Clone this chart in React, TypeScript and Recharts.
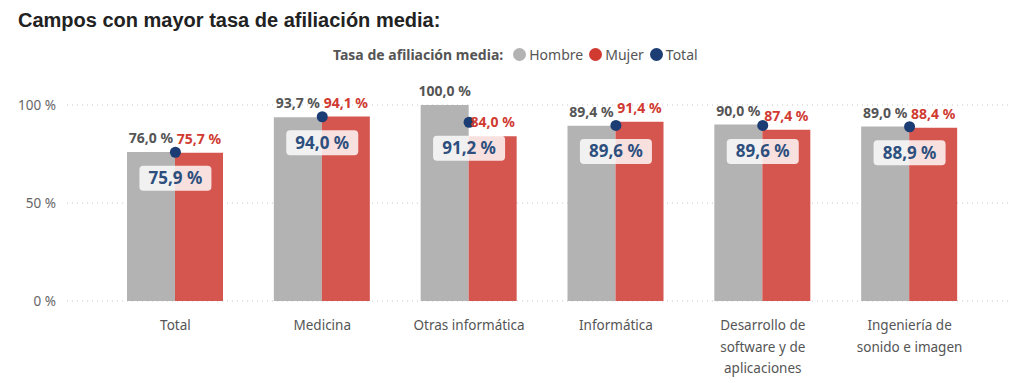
import { ComposedChart, Bar, Line, XAxis, YAxis, CartesianGrid, LabelList } from "recharts";

const categories = [
  "Total",
  "Medicina",
  "Otras informática",
  "Informática",
  "Desarrollo de software y de aplicaciones",
  "Ingeniería de sonido e imagen",
];
const hombre = [76.0, 93.7, 100.0, 89.4, 90.0, 89.0];
const mujer = [75.7, 94.1, 84.0, 91.4, 87.4, 88.4];
const total = [75.9, 94.0, 91.2, 89.6, 89.6, 88.9];
const yTicks = [0, 50, 100];

const GREY = "#b3b3b3";
const RED = "#d5554f";
const NAVY = "#1b3d73";
const FONT = "'Noto Sans', 'Open Sans', sans-serif";

const data = categories.map((name, i) => ({
  name,
  hombre: hombre[i],
  mujer: mujer[i],
  total: total[i],
}));

const pct = (v: unknown) => `${Number(v).toFixed(1).replace(".", ",")} %`;

// naive word wrap, Power BI style
function wrap(text: string, max = 17) {
  const lines: string[] = [];
  let cur = "";
  for (const w of text.split(" ")) {
    const next = cur ? cur + " " + w : w;
    if (next.length > max && cur) {
      lines.push(cur);
      cur = w;
    } else cur = next;
  }
  if (cur) lines.push(cur);
  return lines;
}

function CategoryTick(props: any) {
  const { x, y, payload } = props;
  const lines = wrap(payload.value);
  return (
    <g transform={`translate(${x},${y})`}>
      {lines.map((l, i) => (
        <text key={i} x={0} y={i * 21.5} dy={21} textAnchor="middle" fill="#555" fontSize={13.5} fontFamily={FONT}>
          {l}
        </text>
      ))}
    </g>
  );
}

const barLabel = (color: string) => (props: any) => {
  const { x, y, width, value } = props;
  return (
    <text
      x={x + width / 2}
      y={y - 9}
      textAnchor="middle"
      fill={color}
      fontSize={14}
      fontWeight={700}
      fontFamily={FONT}
    >
      {pct(value)}
    </text>
  );
};

function TotalBadge(props: any) {
  const { x, y, value } = props;
  const cy = y + 26;
  return (
    <g>
      <rect x={x - 36} y={cy - 12.5} width={72} height={25} rx={4} fill="#ffffff" fillOpacity={0.82} />
      <text x={x} y={cy} dy={6} textAnchor="middle" fill="#2c4f7e" fontSize={17} fontWeight={700} fontFamily={FONT}>
        {pct(value)}
      </text>
    </g>
  );
}

function LegendDot({ color, label }: { color: string; label: string }) {
  return (
    <span style={{ display: "inline-flex", alignItems: "center", marginLeft: 6 }}>
      <span style={{ display: "inline-block", width: 13, height: 13, borderRadius: 7, background: color, marginRight: 3 }} />
      {label}
    </span>
  );
}

export default function App() {
  return (
    <div style={{ position: "absolute", left: 0, top: 0, width: 1024, height: 383, background: "#fff" }}>
      <div
        style={{
          position: "absolute",
          left: 18,
          top: 9,
          fontFamily: "'Liberation Sans', Arial, sans-serif",
          fontWeight: 700,
          fontSize: 20,
          color: "#222",
        }}
      >
        Campos con mayor tasa de afiliación media:
      </div>
      <div
        style={{
          position: "absolute",
          left: 333,
          top: 45,
          fontFamily: FONT,
          fontSize: 14,
          color: "#555",
          display: "flex",
          alignItems: "center",
          whiteSpace: "nowrap",
        }}
      >
        <span style={{ fontWeight: 700, marginRight: 4 }}>Tasa de afiliación media:</span>
        <LegendDot color={GREY} label="Hombre" />
        <LegendDot color="#d03a31" label="Mujer" />
        <LegendDot color={NAVY} label="Total" />
      </div>
      <ComposedChart
        width={1024}
        height={383}
        data={data}
        margin={{ top: 105, right: 14, bottom: 52, left: 0 }}
        barGap={0}
        style={{ position: "absolute", left: 0, top: 0 }}
      >
        <CartesianGrid vertical={false} stroke="#c8c8c8" strokeDasharray="1 4" />
        <XAxis
          dataKey="name"
          height={30}
          axisLine={false}
          tickLine={false}
          interval={0}
          padding={{ left: 35, right: 27 }}
          tick={<CategoryTick />}
        />
        <YAxis
          width={67}
          domain={[0, 100]}
          ticks={yTicks}
          axisLine={false}
          tickLine={false}
          tickMargin={5}
          tickFormatter={(v) => `${v} %`}
          tick={{ fill: "#666", fontSize: 13.5, fontFamily: FONT }}
        />
        <Bar dataKey="hombre" fill={GREY} barSize={48} isAnimationActive={false}>
          <LabelList dataKey="hombre" content={barLabel("#555")} />
        </Bar>
        <Bar dataKey="mujer" fill={RED} barSize={48} isAnimationActive={false}>
          <LabelList dataKey="mujer" content={barLabel("#d03a31")} />
        </Bar>
        <Line
          dataKey="total"
          stroke="none"
          dot={{ r: 5.5, fill: NAVY, stroke: NAVY, strokeWidth: 0 }}
          activeDot={false}
          isAnimationActive={false}
        >
          <LabelList dataKey="total" content={<TotalBadge />} />
        </Line>
      </ComposedChart>
    </div>
  );
}
